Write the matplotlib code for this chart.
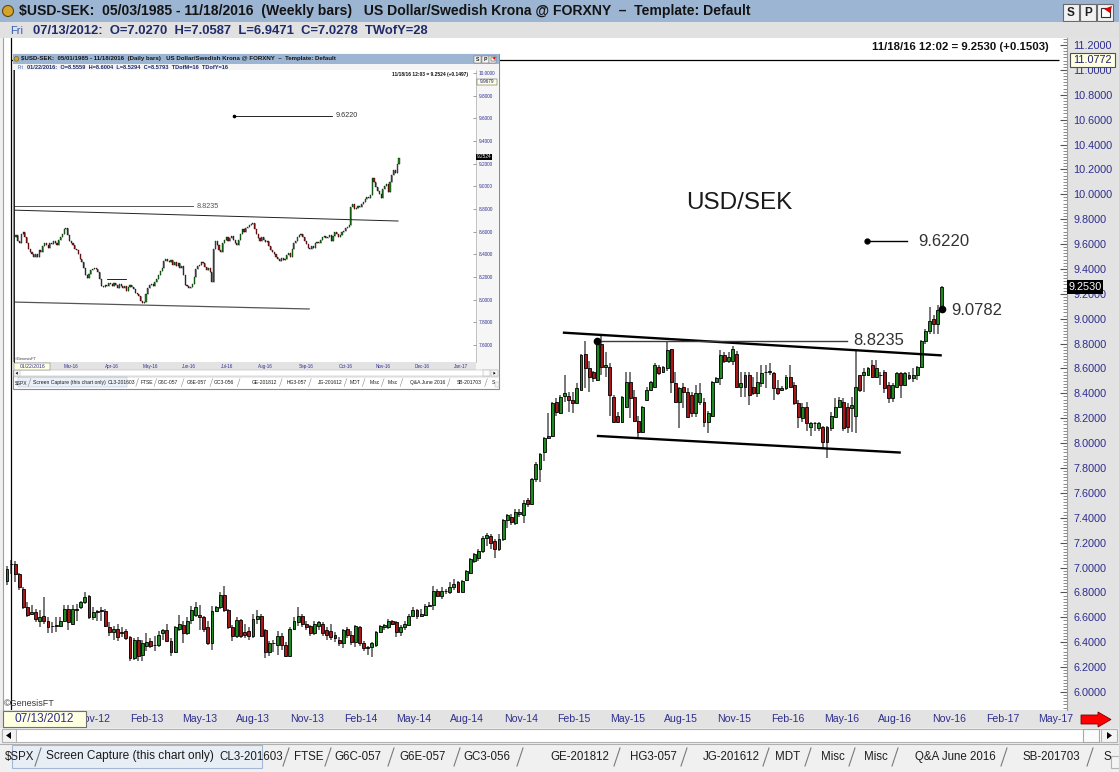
import numpy as np
import pandas as pd
import matplotlib
matplotlib.use('Agg')
import matplotlib.pyplot as plt
import matplotlib.dates as mdates
from matplotlib.patches import Rectangle, Polygon, Circle
from matplotlib.ticker import FixedLocator, FormatStrFormatter, MultipleLocator

plt.rcParams['font.family'] = ['Liberation Sans', 'DejaVu Sans']

# ---------------- weekly data (main chart) ----------------
first_week = '2012-07-06'
w_open = [6.89,7.03,7.03,6.95,6.83,6.68,6.63,6.64,6.57,6.61, 6.57,6.53,6.53,6.53,6.57,6.67,6.55,6.66,6.68,6.72,
          6.77,6.60,6.64,6.66,6.65,6.52,6.48,6.51,6.48,6.49, 6.44,6.27,6.42,6.30,6.37,6.41,6.38,6.38,6.47,6.50,
          6.41,6.32,6.51,6.54,6.47,6.58,6.62,6.62,6.60,6.52, 6.39,6.65,6.68,6.78,6.66,6.52,6.45,6.58,6.48,6.49,
          6.45,6.59,6.61,6.50,6.32,6.39,6.38,6.45,6.38,6.29, 6.51,6.56,6.61,6.55,6.53,6.47,6.53,6.55,6.50,6.49,
          6.46,6.42,6.39,6.51,6.46,6.40,6.52,6.39,6.35,6.36, 6.38,6.48,6.52,6.52,6.57,6.56,6.48,6.52,6.54,6.61,
          6.66,6.61,6.62,6.69,6.70,6.81,6.77,6.81,6.80,6.84, 6.88,6.80,6.90,6.96,7.05,7.08,7.13,7.24,7.25,7.21,
          7.15,7.23,7.38,7.41,7.36,7.43,7.42,7.54,7.51,7.71, 7.79,7.93,8.04,8.06,8.33,8.24,8.38,8.38,8.35,8.32,
          8.43,8.72,8.60,8.57,8.51,8.80,8.61,8.61,8.37,8.22, 8.17,8.29,8.49,8.37,8.18,8.09,8.35,8.43,8.45,8.61,
          8.57,8.60,8.76,8.48,8.33,8.45,8.41,8.39,8.24,8.33, 8.33,8.17,8.22,8.49,8.52,8.71,8.66,8.66,8.72,8.45,
          8.55,8.55,8.45,8.40,8.48,8.57,8.57,8.56,8.44,8.43, 8.44,8.53,8.47,8.32,8.20,8.29,8.13,8.16,8.12,8.13,
          8.13,8.12,8.21,8.29,8.33,8.29,8.28,8.22,8.55,8.55, 8.55,8.63,8.53,8.55,8.57,8.47,8.36,8.45,8.56,8.47,
          8.55,8.52,8.55,8.61,8.82,8.90,9.00,8.96,9.06]
w_high = [7.01,7.06,7.05,6.96,6.84,6.72,6.70,6.67,6.66,6.76, 6.60,6.56,6.60,6.60,6.70,6.70,6.70,6.71,6.73,6.80,
          6.78,6.68,6.66,6.68,6.67,6.56,6.53,6.55,6.52,6.51, 6.45,6.43,6.44,6.42,6.47,6.43,6.45,6.49,6.51,6.55,
          6.43,6.53,6.62,6.57,6.60,6.69,6.72,6.70,6.61,6.57, 6.69,6.69,6.80,6.85,6.67,6.54,6.60,6.59,6.55,6.52,
          6.63,6.66,6.63,6.51,6.41,6.42,6.49,6.47,6.40,6.52, 6.60,6.68,6.63,6.57,6.54,6.57,6.57,6.56,6.52,6.55,
          6.48,6.44,6.51,6.52,6.49,6.54,6.53,6.41,6.37,6.40, 6.49,6.54,6.55,6.59,6.58,6.57,6.54,6.57,6.63,6.68,
          6.67,6.67,6.71,6.72,6.85,6.83,6.84,6.83,6.88,6.91, 6.89,6.90,6.98,7.08,7.12,7.15,7.25,7.28,7.27,7.23,
          7.27,7.39,7.43,7.43,7.47,7.47,7.54,7.56,7.72,7.85, 7.92,8.05,8.24,8.33,8.36,8.39,8.55,8.41,8.41,8.48,
          8.72,8.82,8.66,8.58,8.81,8.87,8.73,8.64,8.39,8.25, 8.38,8.57,8.57,8.43,8.22,8.30,8.45,8.50,8.64,8.63,
          8.62,8.82,8.76,8.57,8.45,8.48,8.44,8.41,8.47,8.48, 8.36,8.26,8.50,8.53,8.75,8.73,8.73,8.78,8.74,8.57,
          8.57,8.57,8.53,8.57,8.63,8.63,8.64,8.57,8.51,8.46, 8.55,8.63,8.49,8.35,8.32,8.33,8.17,8.17,8.17,8.14,
          8.14,8.25,8.36,8.37,8.36,8.32,8.37,8.74,8.55,8.60, 8.61,8.67,8.67,8.57,8.59,8.49,8.48,8.57,8.57,8.57,
          8.57,8.60,8.62,8.83,8.92,9.09,9.03,9.11,9.26]
w_low = [6.86,6.95,6.88,6.82,6.67,6.60,6.62,6.56,6.52,6.55, 6.47,6.47,6.48,6.52,6.56,6.50,6.54,6.57,6.67,6.71,
         6.59,6.58,6.57,6.57,6.52,6.45,6.42,6.41,6.44,6.42, 6.25,6.26,6.25,6.25,6.33,6.35,6.33,6.36,6.42,6.40,
         6.29,6.31,6.49,6.39,6.46,6.55,6.60,6.50,6.48,6.38, 6.34,6.64,6.67,6.64,6.51,6.41,6.43,6.43,6.43,6.42,
         6.43,6.55,6.44,6.27,6.29,6.32,6.30,6.34,6.28,6.28, 6.50,6.53,6.52,6.50,6.45,6.46,6.50,6.45,6.42,6.42,
         6.40,6.37,6.35,6.43,6.38,6.36,6.37,6.33,6.30,6.28, 6.36,6.47,6.50,6.51,6.54,6.44,6.45,6.50,6.53,6.60,
         6.59,6.60,6.61,6.68,6.66,6.76,6.75,6.79,6.79,6.82, 6.80,6.80,6.89,6.95,7.04,7.05,7.12,7.17,7.15,7.08,
         7.13,7.21,7.32,7.34,7.34,7.41,7.36,7.49,7.50,7.69, 7.69,7.86,8.03,8.05,8.22,8.23,8.33,8.25,8.24,8.32,
         8.43,8.44,8.41,8.49,8.50,8.55,8.53,8.22,8.16,8.16, 8.16,8.28,8.20,8.17,8.04,8.08,8.34,8.42,8.44,8.55,
         8.56,8.58,8.40,8.32,8.12,8.28,8.20,8.21,8.21,8.31, 8.13,8.08,8.21,8.48,8.47,8.64,8.64,8.63,8.44,8.37,
         8.37,8.31,8.39,8.37,8.45,8.44,8.55,8.35,8.39,8.42, 8.43,8.45,8.31,8.12,8.17,8.10,8.06,8.10,8.10,7.95,
         7.88,8.10,8.21,8.28,8.10,8.08,8.09,8.08,8.41,8.41, 8.54,8.52,8.52,8.47,8.40,8.32,8.33,8.44,8.36,8.46,
         8.51,8.49,8.51,8.60,8.80,8.88,8.88,8.88,9.06]
w_close = [6.99,7.03,6.95,6.84,6.68,6.62,6.64,6.59,6.60,6.57, 6.52,6.53,6.54,6.57,6.67,6.56,6.67,6.67,6.72,6.76,
           6.60,6.64,6.65,6.65,6.53,6.48,6.51,6.44,6.47,6.43, 6.27,6.42,6.29,6.39,6.40,6.37,6.38,6.46,6.50,6.41,
           6.32,6.52,6.55,6.47,6.57,6.66,6.68,6.60,6.51,6.39, 6.65,6.68,6.78,6.66,6.52,6.45,6.58,6.45,6.46,6.45,
           6.59,6.61,6.45,6.32,6.39,6.39,6.45,6.38,6.29,6.51, 6.57,6.61,6.55,6.52,6.47,6.55,6.56,6.47,6.46,6.44,
           6.43,6.39,6.50,6.46,6.40,6.53,6.39,6.35,6.36,6.39, 6.48,6.53,6.54,6.57,6.55,6.48,6.52,6.55,6.61,6.66,
           6.61,6.63,6.69,6.70,6.81,6.77,6.81,6.81,6.84,6.87, 6.80,6.89,6.97,7.07,7.11,7.13,7.24,7.26,7.20,7.15,
           7.23,7.38,7.42,7.37,7.45,7.45,7.52,7.51,7.71,7.83, 7.91,8.04,8.06,8.32,8.25,8.37,8.40,8.35,8.32,8.44,
           8.71,8.60,8.53,8.52,8.80,8.61,8.63,8.39,8.17,8.17, 8.37,8.49,8.36,8.18,8.09,8.29,8.43,8.49,8.63,8.56,
           8.61,8.75,8.49,8.33,8.44,8.41,8.21,8.24,8.40,8.40, 8.17,8.24,8.49,8.52,8.71,8.66,8.69,8.76,8.45,8.48,
           8.45,8.39,8.40,8.49,8.56,8.57,8.58,8.44,8.40,8.44, 8.53,8.45,8.32,8.21,8.29,8.16,8.16,8.16,8.16,8.01,
           8.01,8.22,8.29,8.35,8.12,8.13,8.31,8.45,8.43,8.57, 8.60,8.53,8.60,8.55,8.44,8.36,8.47,8.56,8.47,8.56,
           8.52,8.55,8.61,8.82,8.90,8.98,8.96,9.07,9.253]

# ---------------- daily data (inset chart) ----------------
d_first = '2016-01-22'
d_first_open = 8.5559
d_close = [8.57,8.52,8.50,8.58,8.60,8.55,8.50,8.45,8.42,8.40, 8.38,8.40,8.38,8.44,8.42,8.47,8.50,8.48,8.46,8.50,
           8.49,8.52,8.50,8.48,8.53,8.55,8.58,8.62,8.63,8.57, 8.52,8.50,8.48,8.45,8.44,8.40,8.36,8.33,8.28,8.22,
           8.19,8.23,8.26,8.27,8.28,8.27,8.24,8.18,8.12,8.11, 8.13,8.12,8.15,8.14,8.12,8.15,8.13,8.10,8.14,8.12,
           8.10,8.12,8.08,8.11,8.13,8.11,8.09,8.06,8.05,8.03, 7.99,7.97,7.98,8.05,8.10,8.13,8.14,8.12,8.16,8.18,
           8.22,8.25,8.28,8.34,8.36,8.34,8.33,8.35,8.31,8.33, 8.30,8.32,8.28,8.30,8.22,8.13,8.12,8.10,8.11,8.14,
           8.20,8.27,8.30,8.31,8.33,8.32,8.29,8.26,8.28,8.24, 8.16,8.45,8.52,8.48,8.44,8.42,8.50,8.53,8.55,8.52,
           8.54,8.56,8.53,8.50,8.48,8.53,8.58,8.62,8.60,8.63, 8.64,8.66,8.67,8.68,8.62,8.58,8.54,8.52,8.55,8.53,
           8.51,8.52,8.47,8.44,8.42,8.40,8.38,8.36,8.34,8.37, 8.35,8.36,8.39,8.41,8.38,8.45,8.50,8.52,8.55,8.57,
           8.58,8.55,8.52,8.49,8.46,8.45,8.47,8.46,8.50,8.51, 8.50,8.53,8.55,8.56,8.54,8.55,8.57,8.52,8.56,8.60,
           8.58,8.55,8.57,8.60,8.61,8.63,8.64,8.66,8.82,8.84, 8.80,8.81,8.83,8.82,8.84,8.86,8.89,8.91,8.90,8.92,
           9.07,9.04,8.99,8.96,8.93,8.90,8.98,9.00,9.02,8.95, 9.04,9.10,9.14,9.12,9.20,9.25]

# ---------------- drawn annotations (main) ----------------
upper_dates, upper_px = ['2015-02-10', '2016-11-18'], [8.888, 8.705]
lower_dates, lower_px = ['2015-04-09', '2016-09-09'], [8.058, 7.924]
target_dates, target_val = ['2016-07-14', '2016-09-19'], 9.6220
brk_dates, brk_val = ['2015-04-09', '2016-06-09'], 8.8235
last_date, last_val = '2016-11-18', 9.0782
cross_date, cross_val = '2012-07-13', 11.0772
# inset annotations (bar-index units)
i_target_idx, i_target_val = [122.4, 177.4], 9.6220
i_brk_idx, i_brk_val = [-1.0, 99.4], 8.8235
i_upper_idx, i_upper_px = [-1.0, 214.5], [8.79, 8.694]
i_lower_idx, i_lower_px = [-1.0, 164.6], [7.979, 7.918]
i_small_idx, i_small_val = [51, 62], 8.18

GREEN, RED, NAVY = '#1c8a1c', '#a81717', '#2e2e8e'
W, H = 1119, 772
fig = plt.figure(figsize=(W / 100, H / 100), dpi=100)
fig.patch.set_facecolor('#f0f0f0')


def frac(x0, y0, x1, y1):
    return [x0 / W, 1 - y1 / H, (x1 - x0) / W, (y1 - y0) / H]


def overlay(z):
    a = fig.add_axes([0, 0, 1, 1], zorder=z)
    a.set_xlim(0, W); a.set_ylim(H, 0); a.axis('off')
    return a


bg = overlay(0)
ib = overlay(2)
fg = overlay(5)


class Win:
    def __init__(self, back, front, s=1.0, ox=0.0, oy=0.0):
        self.back, self.front, self.s, self.ox, self.oy = back, front, s, ox, oy

    def X(self, x): return self.ox + self.s * x
    def Y(self, y): return self.oy + self.s * y

    def box(self, x0, y0, x1, y1, fc, ec='none', lw=0.8, alpha=1.0, front=False):
        a = self.front if front else self.back
        a.add_patch(Rectangle((self.X(x0), self.Y(y0)), self.s * (x1 - x0), self.s * (y1 - y0),
                              facecolor=fc, edgecolor=ec, linewidth=max(lw * self.s, 0.3), alpha=alpha))

    def text(self, x, y, t, size, front=False, **kw):
        a = self.front if front else self.back
        kw.setdefault('va', 'center')
        a.text(self.X(x), self.Y(y), t, fontsize=size * self.s, **kw)

    def line(self, xs, ys, lw=0.8, front=False, **kw):
        a = self.front if front else self.back
        a.plot([self.X(v) for v in xs], [self.Y(v) for v in ys], lw=max(lw * self.s, 0.3), **kw)

    def poly(self, pts, front=False, **kw):
        a = self.front if front else self.back
        a.add_patch(Polygon([(self.X(x), self.Y(y)) for x, y in pts], closed=True, **kw))

    def circle(self, x, y, r, fc, ec):
        self.back.add_patch(Circle((self.X(x), self.Y(y)), r * self.s, facecolor=fc, edgecolor=ec,
                                   linewidth=max(0.8 * self.s, 0.3)))


tabs = [('$SPX', 20), ('CL3-201603', 251), ('FTSE', 309), ('G6C-057', 358), ('G6E-057', 423),
        ('GC3-056', 487), ('GE-201812', 580), ('HG3-057', 653), ('JG-201612', 731), ('MDT', 788),
        ('Misc', 833), ('Misc', 876), ('Q&A June 2016', 955), ('SB-201703', 1051), ('S', 1107)]
seps = [38, 286, 328, 391, 457, 520, 617, 684, 766, 808, 852, 895, 1004, 1090]


def chrome(w, title, day, info, header, datebox, yval, yy, bval, by, arrow, panel, infobar):
    w.box(0, 0, 1119, 22, '#9cb5d3')
    w.circle(8, 11, 5.5, '#d4a42a', '#5c4a12')
    w.text(19, 11.5, title, 10.1, weight='bold', color='#141414')
    for x0, lab in [(1063, 'S'), (1080, 'P'), (1097, '')]:
        w.box(x0, 4, x0 + 16, 21, '#f2f2f2', ec='#6a6a6a')
        if lab:
            w.text(x0 + 8, 12.8, lab, 8.5, weight='bold', color='#202020', ha='center')
    w.box(1101, 8, 1110, 17, 'white', ec='#303030')
    w.poly([(1104, 9), (1112, 6), (1110, 13)], facecolor='#e00000', edgecolor='none')
    w.box(0, 22, 1119, 38, infobar)
    w.text(10, 30.5, day, 8, color='#3a5db0')
    w.text(33, 30.5, info, 9.4, weight='bold', color='#1f2b6b')
    w.box(1067, 38, 1119, 728, panel)
    w.box(0, 710, 1067, 728, '#e3e3e3')
    # scrollbar
    w.box(2, 729, 1117, 742, 'white', ec='#b4b4b4')
    w.box(2, 729, 16, 742, '#f4f4f4', ec='#b4b4b4')
    w.poly([(11, 732), (11, 739), (6, 735.5)], facecolor='black', edgecolor='none')
    w.box(1083, 729, 1099, 742, '#fbfbfb', ec='#a8a8a8')
    w.box(1101, 729, 1117, 742, '#f4f4f4', ec='#b4b4b4')
    w.poly([(1107, 732), (1107, 739), (1112, 735.5)], facecolor='black', edgecolor='none')
    # tabs
    w.line([0, 1119], [744, 744], color='#b0b0b0')
    for lab, cx in tabs:
        w.text(cx, 757, lab, 8.3, color='#1e1e1e', ha='center')
    for sx in seps:
        w.line([sx - 3, sx + 3], [766, 748], color='#7a7a7a')
    w.box(1111, 756, 1119, 768, '#f4f4f4', ec='#b4b4b4')
    w.box(12, 745, 262, 768, '#e8eef7', ec='#9ab0cf', alpha=0.88)
    w.text(46, 756.5, 'Screen Capture (this chart only)', 8.6, color='#1a1a1a')
    # front items
    w.text(1049, 47, header, 8.2, front=True, weight='bold', color='#111111', ha='right')
    w.text(4, 703, '\u00a9GenesisFT', 6.5, front=True, color='#3a3a3a')
    w.box(3, 711, 86, 727, '#ffffe1', ec='#707070', front=True)
    w.text(44.5, 719, datebox, 8.6, front=True, color=NAVY, ha='center')
    w.box(1070, yy - 7, 1115, yy + 7, '#ffffe1', ec='#505050', front=True)
    w.text(1092.5, yy, yval, 7.8, front=True, color='#1f1f6f', ha='center')
    w.box(1067, by - 7, 1103, by + 7, 'black', front=True)
    w.text(1085, by, bval, 7.8, front=True, color='white', ha='center')
    if arrow:
        w.poly([(1081, 715), (1098, 715), (1098, 712), (1111, 719.5), (1098, 727), (1098, 724), (1081, 724)],
               front=True, facecolor='#ff0000', edgecolor='#7a0000', linewidth=0.6)


def candles(ax, x, o, h, l, c, width, wick_lw, edge_lw, wick_col='#6c6c6c'):
    o, h, l, c = (np.asarray(v, float) for v in (o, h, l, c))
    ax.vlines(x, l, h, colors=wick_col, linewidth=wick_lw, zorder=2)
    cols = [GREEN if cc >= oo else RED for oo, cc in zip(o, c)]
    ax.bar(x, np.maximum(np.abs(c - o), 1e-3), width=width, bottom=np.minimum(o, c),
           color=cols, edgecolor='black', linewidth=edge_lw, zorder=3)


# ================= main window =================
main = Win(bg, fg)
chrome(main,
       '$USD-SEK:  05/03/1985 - 11/18/2016  (Weekly bars)   US Dollar/Swedish Krona @ FORXNY  \u2013  Template: Default',
       'Fri', '07/13/2012:  O=7.0270  H=7.0587  L=6.9471  C=7.0278  TWofY=28',
       '11/18/16 12:02 = 9.2530 (+0.1503)', '07/13/2012', '11.0772', 60, '9.2530', 287, True,
       '#e3e3e3', '#e1e1e1')

ax = fig.add_axes(frac(3, 38, 1067, 710), zorder=1)
ax.set_facecolor('white')
wdates = pd.date_range(first_week, periods=len(w_close), freq='7D')
wx = mdates.date2num(wdates.to_pydatetime())
ppd = 4.1 / 7.0
ax.set_xlim(wx[0] - 4 / ppd, wx[0] + 1060 / ppd)
ax.set_ylim(5.855, 11.256)
candles(ax, wx, w_open, w_high, w_low, w_close, 5.0, 1.3, 0.6)

ax.yaxis.tick_right()
ax.yaxis.set_major_locator(FixedLocator(np.round(np.arange(6.0, 11.21, 0.2), 1)))
ax.yaxis.set_major_formatter(FormatStrFormatter('%.4f'))
ax.yaxis.set_minor_locator(MultipleLocator(0.025))
ax.tick_params(axis='y', which='major', direction='in', length=5, width=0.8, color='#555555',
               labelsize=7.8, labelcolor=NAVY, pad=4.5)
ax.tick_params(axis='y', which='minor', direction='in', length=3, width=0.6, color='#777777')
mstarts = pd.date_range('2012-11-01', '2017-05-01', freq='3MS')
ax.xaxis.set_major_locator(FixedLocator(mdates.date2num(mstarts.to_pydatetime())))
ax.set_xticklabels([d.strftime('%b-%y') for d in mstarts], ha='left')
ax.tick_params(axis='x', length=0, labelsize=7.6, labelcolor=NAVY, pad=2.6)
for sp in ('top', 'bottom'):
    ax.spines[sp].set_visible(False)
ax.spines['left'].set_color('#a0a0a0'); ax.spines['left'].set_linewidth(0.8)
ax.spines['right'].set_color('#9a9a9a'); ax.spines['right'].set_linewidth(0.8)

d2n = lambda ds: mdates.date2num(pd.to_datetime(ds).to_pydatetime())
cx = d2n(cross_date)
ax.axvline(cx, color='black', lw=0.9, zorder=4)
ax.hlines(cross_val, cx, wx[0] + 1052 / ppd, color='black', lw=0.9, zorder=4)
ax.plot(d2n(upper_dates), upper_px, color='black', lw=1.7, zorder=5, solid_capstyle='butt')
ax.plot(d2n(lower_dates), lower_px, color='black', lw=1.7, zorder=5, solid_capstyle='butt')
ax.plot(d2n(target_dates), [target_val] * 2, color='black', lw=1.0, zorder=5)
ax.plot(d2n(target_dates)[:1], [target_val], 'o', color='black', ms=3.5, zorder=6)
ax.plot(d2n(brk_dates), [brk_val] * 2, color='#3a3a3a', lw=1.0, zorder=5)
ax.plot(d2n(brk_dates)[:1], [brk_val], 'o', color='black', ms=4.5, zorder=6)
ax.plot(d2n([last_date]), [last_val], 'o', color='black', ms=4.5, zorder=6)
ax.text(d2n('2016-10-08'), target_val, '9.6220', fontsize=12, color='#333333', va='center', ha='left')
ax.text(d2n('2016-06-19'), brk_val, '8.8235', fontsize=12, color='#333333', va='center', ha='left')
ax.text(d2n('2016-12-04'), last_val - 0.01, '9.0782', fontsize=12, color='#333333', va='center', ha='left')
ax.text(d2n('2015-12-09'), 9.93, 'USD/SEK', fontsize=17.5, color='#1a1a1a', va='center', ha='center')

# ================= inset window =================
s = 0.434
ox, oy = 13, 54
ib.add_patch(Rectangle((ox, oy), 1119 * s, 772 * s, facecolor='white', edgecolor='#8a8a8a', linewidth=0.8))
inset = Win(ib, fg, s, ox, oy)
chrome(inset,
       '$USD-SEK:  05/01/1985 - 11/18/2016  (Daily bars)   US Dollar/Swedish Krona @ FORXNY  \u2013  Template: Default',
       'Fri', '01/22/2016:  O=8.5559  H=8.6004  L=8.5294  C=8.5793  TDofM=16  TDofY=16',
       '11/18/16 12:03 = 9.2524 (+0.1497)', '01/22/2016', '9.9679', 64.5, '9.2524', 237.3, False,
       '#f6f6f6', '#f4f4f4')

ins = fig.add_axes(frac(ox + 3 * s, oy + 38 * s, ox + 1067 * s, oy + 710 * s), zorder=3)
ins.set_facecolor('white')
dc = np.asarray(d_close, float)
do = np.r_[d_first_open, dc[:-1]]
idx = np.arange(len(dc))
ins.set_xlim(-0.95, 258.3)
ins.set_ylim(7.449, 10.022)
candles(ins, idx, do, np.maximum(do, dc), np.minimum(do, dc), dc, 0.62, 0.5, 0.25)
ins.yaxis.tick_right()
ins.yaxis.set_major_locator(FixedLocator(np.round(np.arange(7.6, 10.01, 0.2), 1)))
ins.yaxis.set_major_formatter(FormatStrFormatter('%.4f'))
ins.tick_params(axis='y', direction='in', length=2.2, width=0.4, color='#555555',
                labelsize=7.8 * s, labelcolor=NAVY, pad=2)
ext = pd.bdate_range(d_first, periods=262)
mpos = [i for i in range(1, len(ext)) if ext[i].month != ext[i - 1].month and i > 15]
ins.xaxis.set_major_locator(FixedLocator(mpos))
ins.set_xticklabels([ext[i].strftime('%b-%y') for i in mpos], ha='left')
ins.tick_params(axis='x', length=0, labelsize=7.6 * s, labelcolor=NAVY, pad=1.1)
for sp in ('top', 'bottom'):
    ins.spines[sp].set_visible(False)
ins.spines['left'].set_color('#202020'); ins.spines['left'].set_linewidth(0.7)
ins.spines['right'].set_color('#9a9a9a'); ins.spines['right'].set_linewidth(0.4)
ins.plot(i_target_idx, [i_target_val] * 2, color='black', lw=0.6)
ins.plot(i_target_idx[:1], [i_target_val], 'o', color='black', ms=1.6)
ins.text(i_target_idx[1] + 2, i_target_val, '9.6220', fontsize=5.2, color='#333333', va='center')
ins.plot(i_brk_idx, [i_brk_val] * 2, color='#3a3a3a', lw=0.6)
ins.text(i_brk_idx[1] + 2, i_brk_val, '8.8235', fontsize=5.2, color='#555555', va='center')
ins.plot(i_upper_idx, i_upper_px, color='#222222', lw=0.7)
ins.plot(i_lower_idx, i_lower_px, color='#555555', lw=0.9)
ins.plot(i_small_idx, [i_small_val] * 2, color='black', lw=0.6)

fig.savefig('out.png', dpi=100, facecolor=fig.get_facecolor())
